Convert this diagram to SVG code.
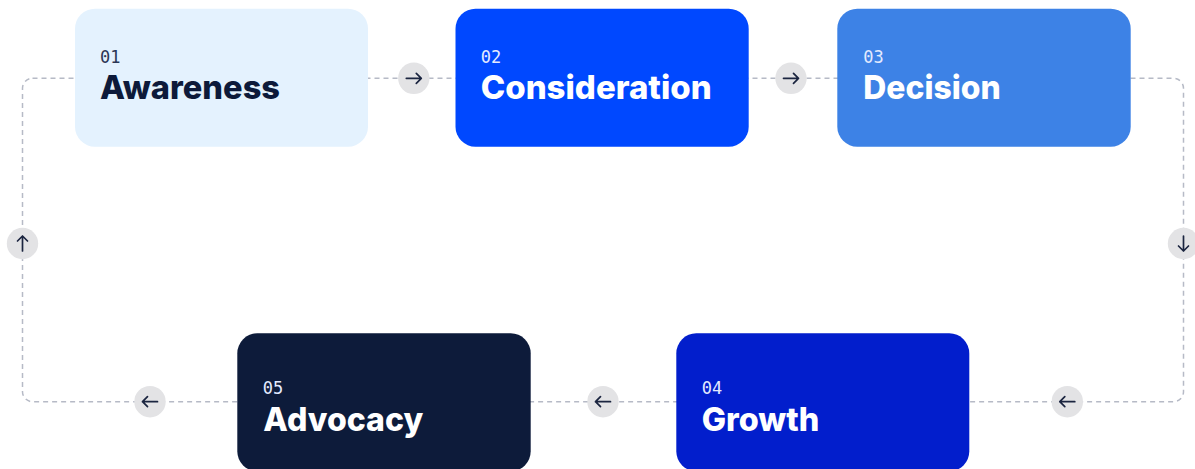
<svg xmlns="http://www.w3.org/2000/svg" width="1195" height="469" viewBox="0 0 1195 469">
  <style>
    .loop { fill: none; stroke: #b6bac6; stroke-width: 1.5; stroke-dasharray: 5 4; }
    .badge { fill: #e3e3e5; }
    .arrow { fill: none; stroke: #1b2540; stroke-width: 1.7; stroke-linecap: round; stroke-linejoin: round; }
    .num { font-family: "DejaVu Sans Mono", "Liberation Mono", monospace; font-size: 17px; }
    .title { font-family: Inter, "Open Sans", "Liberation Sans", sans-serif; font-size: 33px; font-weight: 800; }
    .dark { fill: #0d1a3a; }
    .num.dark { fill: #2b3654; }
    .light { fill: #ffffff; }
    .num.light { fill: #e3eaff; }
  </style>
  <defs>
    <g id="arrow-right">
      <circle class="badge" r="15.7"/>
      <path class="arrow" d="M-7.5 0H7.5M2.5-5L7.5 0L2.5 5"/>
    </g>
  </defs>

  <rect width="1195" height="469" fill="#ffffff"/>

  <!-- connectors: dashed loop with direction badges -->
  <g id="connectors">
    <rect class="loop" x="22.5" y="78.3" width="1161" height="323.4" rx="10"/>
    <use href="#arrow-right" x="413.8" y="78.3"/>
    <use href="#arrow-right" x="791" y="78.3"/>
    <use href="#arrow-right" transform="translate(1183.5 243.5) rotate(90)"/>
    <use href="#arrow-right" transform="translate(1067.3 401.7) rotate(180)"/>
    <use href="#arrow-right" transform="translate(603 401.7) rotate(180)"/>
    <use href="#arrow-right" transform="translate(150 401.7) rotate(180)"/>
    <use href="#arrow-right" transform="translate(22.5 243.5) rotate(-90)"/>
  </g>

  <g id="node-awareness">
    <rect x="75" y="8.7" width="293" height="138" rx="20" fill="#e4f2fe"/>
    <text class="num dark" x="100" y="63.3">01</text>
    <text class="title dark" x="100" y="99.3" textLength="180" lengthAdjust="spacingAndGlyphs">Awareness</text>
  </g>

  <g id="node-consideration">
    <rect x="455.5" y="8.7" width="293.2" height="138" rx="20" fill="#0048ff"/>
    <text class="num light" x="480.7" y="63.3">02</text>
    <text class="title light" x="480.7" y="99.3" textLength="231" lengthAdjust="spacingAndGlyphs">Consideration</text>
  </g>

  <g id="node-decision">
    <rect x="837.3" y="8.7" width="293.4" height="138" rx="20" fill="#3d82e6"/>
    <text class="num light" x="863.3" y="63.3">03</text>
    <text class="title light" x="863.3" y="99.3" textLength="137.4" lengthAdjust="spacingAndGlyphs">Decision</text>
  </g>

  <g id="node-growth">
    <rect x="676.3" y="333.3" width="293" height="138" rx="20" fill="#021ecc"/>
    <text class="num light" x="701.7" y="394">04</text>
    <text class="title light" x="701.7" y="430.7" textLength="117.6" lengthAdjust="spacingAndGlyphs">Growth</text>
  </g>

  <g id="node-advocacy">
    <rect x="237.3" y="333.3" width="293.4" height="138" rx="20" fill="#0d1b3a"/>
    <text class="num light" x="262.7" y="394">05</text>
    <text class="title light" x="263.3" y="430.7" textLength="160" lengthAdjust="spacingAndGlyphs">Advocacy</text>
  </g>
</svg>
